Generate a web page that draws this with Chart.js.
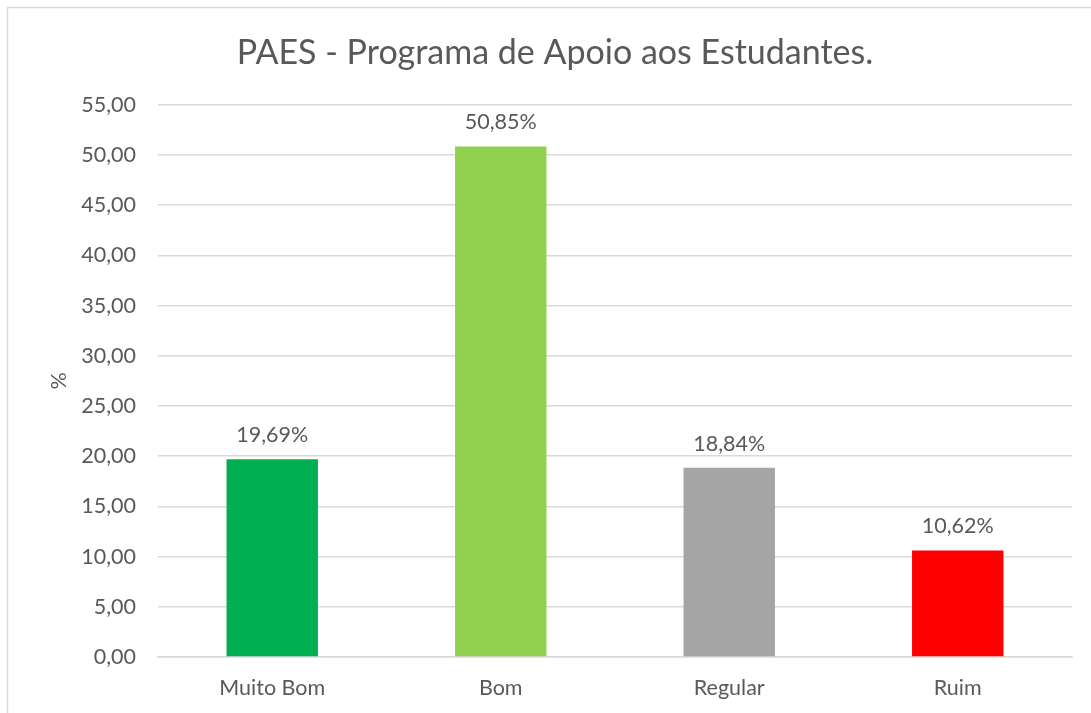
<!DOCTYPE html>
<html lang="pt">
<head>
<meta charset="utf-8">
<title>PAES - Programa de Apoio aos Estudantes.</title>
<script src="https://cdn.jsdelivr.net/npm/chart.js@4.4.1/dist/chart.umd.min.js"></script>
<style>
  html, body { margin: 0; padding: 0; background: #ffffff; }
  #wrap { position: relative; width: 1091px; height: 713px; }
</style>
</head>
<body>
<div id="wrap"><canvas id="chart"></canvas></div>
<script>
// ---- data ----
const categories = ['Muito Bom', 'Bom', 'Regular', 'Ruim'];
const percentValues = [19.69, 50.85, 18.84, 10.62];
const barColors = ['#00B050', '#92D050', '#A5A5A5', '#FF0000'];
const chartTitle = 'PAES - Programa de Apoio aos Estudantes.';
const axisTitle = '%';

const FONT = 'Lato, "Open Sans", sans-serif';
const TEXT = '#595959';
const GRID = '#D9D9D9';
const SIZE = 21.5;

const fmt = (v, d) => v.toFixed(d).replace('.', ',');

// outer frame (chart is cropped at right/bottom)
const framePlugin = {
    id: 'frame',
    beforeDraw(chart) {
        const ctx = chart.ctx;
        ctx.save();
        ctx.strokeStyle = GRID;
        ctx.lineWidth = 1.5;
        ctx.strokeRect(7.5, 7.5, chart.width + 50, chart.height + 50);
        ctx.restore();
    }
};

// value labels above bars
const valueLabels = {
    id: 'valueLabels',
    afterDatasetsDraw(chart) {
        const ctx = chart.ctx;
        const meta = chart.getDatasetMeta(0);
        ctx.save();
        ctx.fillStyle = TEXT;
        ctx.font = SIZE + 'px ' + FONT;
        ctx.textAlign = 'center';
        ctx.textBaseline = 'middle';
        meta.data.forEach((bar, i) => {
            ctx.fillText(fmt(percentValues[i], 2) + '%', bar.x, bar.y - 24);
        });
        ctx.restore();
    }
};

new Chart(document.getElementById('chart'), {
    type: 'bar',
    data: {
        labels: categories,
        datasets: [{
            data: percentValues,
            backgroundColor: barColors,
            borderWidth: 0,
            barPercentage: 0.8,
            categoryPercentage: 0.5
        }]
    },
    options: {
        responsive: true,
        maintainAspectRatio: false,
        animation: false,
        layout: { padding: { top: 0, right: 19, bottom: 0, left: 38 } },
        plugins: {
            legend: { display: false },
            tooltip: { enabled: false },
            title: {
                display: true,
                text: chartTitle,
                color: TEXT,
                font: { family: FONT, size: 34, weight: 'normal', lineHeight: 1.2 },
                padding: { top: 33, bottom: 31 }
            }
        },
        scales: {
            x: {
                grid: { display: false },
                border: { display: true, color: GRID, width: 1.5 },
                ticks: { color: TEXT, font: { family: FONT, size: SIZE }, padding: 10 },
                afterFit(scale) { scale.height = 56; }
            },
            y: {
                min: 0,
                max: 55,
                grid: { color: GRID, lineWidth: 1.5, drawTicks: false },
                border: { display: false },
                ticks: {
                    stepSize: 5,
                    color: TEXT,
                    font: { family: FONT, size: SIZE },
                    padding: 22,
                    callback: v => fmt(v, 2)
                },
                title: {
                    display: true,
                    text: axisTitle,
                    color: TEXT,
                    font: { family: FONT, size: SIZE },
                    padding: { top: 8, bottom: 0 }
                },
                afterFit(scale) { scale.width = 120; }
            }
        }
    },
    plugins: [framePlugin, valueLabels]
});
</script>
</body>
</html>
